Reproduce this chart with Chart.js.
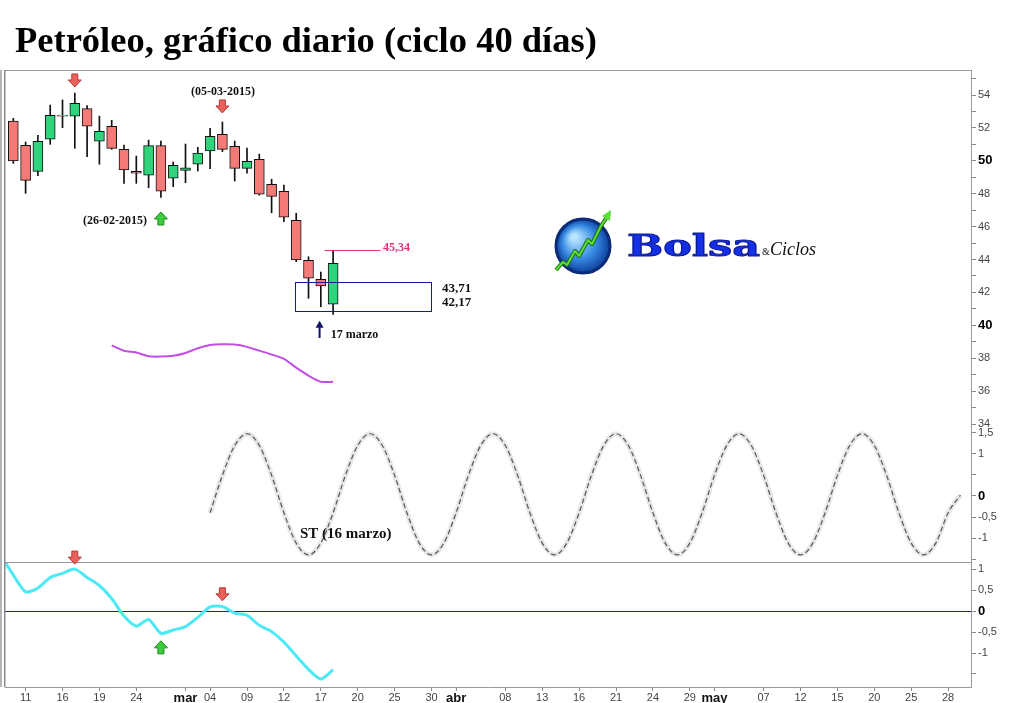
<!DOCTYPE html>
<html>
<head>
    <meta charset="utf-8">
    <title>Petróleo, gráfico diario</title>
    <script src="https://cdn.jsdelivr.net/npm/chart.js"></script>
    <style>
        body {
            margin: 0;
            background: #ffffff;
        }
        .wrap {
            position: relative;
            width: 1024px;
            height: 703px;
        }
        .wrap canvas {
            position: absolute;
            left: 0;
            top: 0;
        }
        .title {
            position: absolute;
            left: 15px;
            top: 21px;
            margin: 0;
            font-family: 'Liberation Serif', 'Times New Roman', serif;
            font-weight: bold;
            font-size: 36.5px;
            line-height: 37px;
            color: #000;
            white-space: nowrap;
        }
    </style>
</head>
<body>
<div class="wrap">
    <canvas id="oilChart" width="1024" height="703"></canvas>
    <div class="title">Petróleo, gráfico diario (ciclo 40 días)</div>
</div>
<script>
// trading days are numbered from 10 feb 2015 (day 0)
const tickDays   = [1, 4, 7, 10, 14, 16, 19, 22, 25, 28, 31, 34, 36, 40, 43, 46, 49, 52, 55, 57, 61, 64, 67, 70, 73, 76];
const tickLabels = ['11', '16', '19', '24', 'mar', '04', '09', '12', '17', '20', '25', '30', 'abr', '08', '13', '16', '21', '24', '29', 'may', '07', '12', '15', '20', '25', '28'];
const monthLabels = ['mar', 'abr', 'may'];

// daily candles, day 0..26
const open  = [52.42, 50.94, 49.36, 51.31, 52.72, 52.72, 53.17, 51.20, 52.10, 50.70, 49.36, 49.12, 50.92, 48.94, 49.42, 49.79, 50.60, 51.61, 50.88, 49.54, 50.09, 48.57, 48.15, 46.38, 43.95, 42.80, 41.28];
const high  = [52.58, 51.14, 51.55, 53.39, 53.70, 54.12, 53.35, 52.72, 52.46, 50.96, 50.29, 51.26, 51.20, 49.93, 51.02, 50.82, 51.98, 52.36, 51.20, 50.78, 50.41, 48.88, 48.53, 46.81, 44.17, 43.24, 44.55];
const low   = [49.85, 48.02, 49.09, 51.00, 52.01, 50.76, 50.25, 49.79, 50.70, 48.63, 48.63, 48.36, 47.78, 48.43, 48.67, 49.38, 49.52, 50.56, 48.77, 49.25, 47.91, 46.84, 46.30, 43.87, 41.64, 41.13, 40.67];
const close = [49.99, 48.81, 51.19, 52.77, 52.78, 53.50, 52.10, 51.79, 50.76, 49.44, 49.25, 50.92, 48.16, 49.73, 49.58, 50.47, 51.49, 50.70, 49.54, 49.97, 47.98, 47.84, 46.57, 43.97, 42.86, 42.39, 43.77];

// purple line on the price panel, day 8..26
const avgStart = 8;
const avgLine = [38.78, 38.45, 38.35, 38.12, 38.10, 38.15, 38.32, 38.61, 38.80, 38.85, 38.83, 38.69, 38.46, 38.23, 37.96, 37.43, 36.94, 36.57, 36.57];

// cycle curve, day 16..77
const cycleStart = 16;
const cycle = [
    -0.40, 0.49, 1.20, 1.48, 1.20, 0.49, -0.40, -1.12, -1.40, -1.12,
    -0.40, 0.49, 1.20, 1.48, 1.20, 0.49, -0.40, -1.12, -1.40, -1.12,
    -0.40, 0.49, 1.20, 1.48, 1.20, 0.49, -0.40, -1.12, -1.40, -1.12,
    -0.40, 0.49, 1.20, 1.48, 1.20, 0.49, -0.40, -1.12, -1.40, -1.12,
    -0.40, 0.49, 1.20, 1.48, 1.20, 0.49, -0.40, -1.12, -1.40, -1.12,
    -0.40, 0.49, 1.20, 1.48, 1.20, 0.49, -0.40, -1.12, -1.40, -1.12,
    -0.40, 0.02
];

// oscillator, day -1..26
const oscStart = -1;
const osc = [1.33, 0.86, 0.46, 0.55, 0.80, 0.90, 1.00, 0.80, 0.61, 0.30, -0.12, -0.36, -0.20, -0.53, -0.45, -0.37, -0.15, 0.10, 0.11, -0.05, -0.10, -0.34, -0.49, -0.74, -1.07, -1.39, -1.62, -1.40];

// axis ticks
const priceTicks = [34, 35, 36, 37, 38, 39, 40, 41, 42, 43, 44, 45, 46, 47, 48, 49, 50, 51, 52, 53, 54, 55];
const cycleTicks = [1.5, 1, 0.5, 0, -0.5, -1, -1.5];
const cycleHidden = [0.5, -1.5];
const oscTicks = [1, 0.5, 0, -0.5, -1, -1.5];
const oscHidden = [-1.5];
const boldTicks = [50, 40, 0];

// marks written on the chart (day, value)
const priceArrows = [{ day: 5, value: 54.49, dir: 1 }, { day: 17, value: 52.91, dir: 1 }, { day: 12, value: 46.89, dir: -1 }];
const oscArrows = [{ day: 5, value: 1.12, dir: 1 }, { day: 17, value: 0.245, dir: 1 }, { day: 12, value: -0.71, dir: -1 }];
const targetHigh = 44.55;      // pink line
const targetBox = { from: 22.93, to: 33.93, top: 42.61, bottom: 40.87 };

const candleDays = open.map((v, i) => i);

function fmt(v) {
    return String(v).replace('.', ',');
}

function blockArrow(ctx, cx, tipY, dir, fill, stroke) {
    // dir 1 = pointing down, -1 = pointing up
    const h = 13, hw = 6.5, sw = 3, hh = 7;
    const baseY = tipY - dir * h;
    const neckY = tipY - dir * hh;
    ctx.beginPath();
    ctx.moveTo(cx - sw, baseY);
    ctx.lineTo(cx + sw, baseY);
    ctx.lineTo(cx + sw, neckY);
    ctx.lineTo(cx + hw, neckY);
    ctx.lineTo(cx, tipY);
    ctx.lineTo(cx - hw, neckY);
    ctx.lineTo(cx - sw, neckY);
    ctx.closePath();
    ctx.fillStyle = fill;
    ctx.fill();
    ctx.strokeStyle = stroke;
    ctx.lineWidth = 1;
    ctx.stroke();
}

const extras = {
    id: 'extras',
    afterDraw(chart) {
        const ctx = chart.ctx;
        const area = chart.chartArea;
        const x = chart.scales.x, yP = chart.scales.yP, yS = chart.scales.yS, yO = chart.scales.yO;
        const px = v => x.getPixelForValue(v);

        ctx.save();
        // frame lines
        ctx.strokeStyle = '#9a9a9a';
        ctx.lineWidth = 1;
        ctx.beginPath();
        ctx.moveTo(area.left, area.top + 0.5);
        ctx.lineTo(area.right, area.top + 0.5);
        ctx.moveTo(area.left, yO.top + 0.5);
        ctx.lineTo(area.right, yO.top + 0.5);
        ctx.stroke();
        ctx.fillStyle = '#b5b5b5';
        ctx.fillRect(0, area.top, 2, area.bottom - area.top);
        ctx.fillStyle = '#8a8a8a';
        ctx.fillRect(area.left - 1, area.top, 1.5, area.bottom - area.top);

        // target line and box
        ctx.strokeStyle = '#e0307a';
        ctx.beginPath();
        ctx.moveTo(px(25.32), Math.round(yP.getPixelForValue(targetHigh)) + 0.5);
        ctx.lineTo(px(29.85), Math.round(yP.getPixelForValue(targetHigh)) + 0.5);
        ctx.stroke();
        ctx.strokeStyle = '#1a1a8c';
        const bx = Math.round(px(targetBox.from)) + 0.5, by = Math.round(yP.getPixelForValue(targetBox.top)) + 0.5;
        ctx.strokeRect(bx, by, Math.round(px(targetBox.to)) - bx + 0.5, Math.round(yP.getPixelForValue(targetBox.bottom)) - by + 0.5);

        // arrows
        priceArrows.forEach(a => {
            const up = a.dir < 0;
            blockArrow(ctx, px(a.day), yP.getPixelForValue(a.value), a.dir,
                up ? '#3ccc3c' : '#e8625c', up ? '#1f8a1f' : '#b83a34');
        });
        oscArrows.forEach(a => {
            const up = a.dir < 0;
            blockArrow(ctx, px(a.day), yO.getPixelForValue(a.value), a.dir,
                up ? '#3ccc3c' : '#e8625c', up ? '#1f8a1f' : '#b83a34');
        });

        // thin navy arrow (17 marzo)
        const ax = px(24.9), aTop = yP.getPixelForValue(40.28), aBot = yP.getPixelForValue(39.23);
        ctx.fillStyle = '#14146e';
        ctx.fillRect(ax - 1, aTop + 5, 2, aBot - aTop - 5);
        ctx.beginPath();
        ctx.moveTo(ax, aTop);
        ctx.lineTo(ax + 4, aTop + 7);
        ctx.lineTo(ax - 4, aTop + 7);
        ctx.closePath();
        ctx.fill();

        // notes
        ctx.textBaseline = 'middle';
        ctx.fillStyle = '#111';
        ctx.textAlign = 'center';
        ctx.font = 'bold 12px "Liberation Serif"';
        ctx.fillText('(05-03-2015)', px(17.05), yP.getPixelForValue(54.18));
        ctx.fillText('(26-02-2015)', px(8.27), yP.getPixelForValue(46.34));
        ctx.textAlign = 'left';
        ctx.font = 'bold 13px "Liberation Serif"';
        ctx.fillText('43,71', px(34.85), yP.getPixelForValue(42.2));
        ctx.fillText('42,17', px(34.85), yP.getPixelForValue(41.36));
        ctx.font = 'bold 12px "Liberation Serif"';
        ctx.fillText('17 marzo', px(25.8), yP.getPixelForValue(39.4));
        ctx.font = 'bold 15px "Liberation Serif"';
        ctx.fillText('ST (16 marzo)', px(23.3), yS.getPixelForValue(-0.9));
        ctx.font = 'bold 12px "Liberation Serif"';
        ctx.fillStyle = '#e0307a';
        ctx.fillText('45,34', px(30.05), yP.getPixelForValue(44.7));

        // logo
        const gx = 583, gy = 246, r = 27;
        const grad = ctx.createRadialGradient(gx - 9, gy - 9, 3, gx, gy, r);
        grad.addColorStop(0, '#b8e4ff');
        grad.addColorStop(0.55, '#3a8ee6');
        grad.addColorStop(1, '#0d3f9e');
        ctx.beginPath();
        ctx.arc(gx, gy, r, 0, Math.PI * 2);
        ctx.fillStyle = grad;
        ctx.fill();
        ctx.lineWidth = 3;
        ctx.strokeStyle = '#0b2a78';
        ctx.stroke();
        const zig = [[556, 270], [563, 262], [567, 265], [575, 251], [579, 256], [588, 240], [592, 244], [601, 226], [609, 214]];
        ctx.lineJoin = 'round';
        ctx.beginPath();
        zig.forEach((p, i) => i ? ctx.lineTo(p[0], p[1]) : ctx.moveTo(p[0], p[1]));
        ctx.strokeStyle = '#1d6a12';
        ctx.lineWidth = 4;
        ctx.stroke();
        ctx.strokeStyle = '#5be03a';
        ctx.lineWidth = 2;
        ctx.stroke();
        ctx.beginPath();
        ctx.moveTo(611, 210);
        ctx.lineTo(610, 221);
        ctx.lineTo(602, 216);
        ctx.closePath();
        ctx.fillStyle = '#5be03a';
        ctx.fill();

        ctx.font = 'bold 30px "DejaVu Serif"';
        const w = ctx.measureText('Bolsa').width;
        ctx.save();
        ctx.translate(627, 256);
        ctx.scale(133 / w, 1);
        ctx.textBaseline = 'alphabetic';
        ctx.lineWidth = 1;
        ctx.strokeStyle = '#0a1890';
        ctx.fillStyle = '#1430e6';
        ctx.fillText('Bolsa', 0, 0);
        ctx.strokeText('Bolsa', 0, 0);
        ctx.restore();
        ctx.textBaseline = 'alphabetic';
        ctx.fillStyle = '#111';
        ctx.font = '10px "Liberation Serif"';
        ctx.fillText('&', 762, 255);
        ctx.font = 'italic 18px "Liberation Serif"';
        ctx.fillText('Ciclos', 770, 255);
        ctx.restore();
    }
};

function tickFont(c) {
    const v = c.tick ? c.tick.value : null;
    return boldTicks.includes(v)
        ? { family: 'Liberation Sans', size: 13, weight: 'bold' }
        : { family: 'Liberation Sans', size: 11 };
}
function tickColor(c) {
    return c.tick && boldTicks.includes(c.tick.value) ? '#000' : '#444';
}

const ctx = document.getElementById('oilChart').getContext('2d');
const chart = new Chart(ctx, {
    type: 'line',
    data: {
        datasets: [
            {
                type: 'bar',
                data: candleDays.map(i => ({ x: i, y: [low[i], high[i]] })),
                yAxisID: 'yP',
                backgroundColor: '#111',
                barThickness: 1,
                grouped: false,
                order: 5
            },
            {
                type: 'bar',
                data: candleDays.map(i => ({ x: i, y: [open[i], close[i]] })),
                yAxisID: 'yP',
                backgroundColor: candleDays.map(i => close[i] >= open[i] ? '#2fd47c' : '#f47a78'),
                borderColor: '#111',
                borderWidth: 1,
                borderSkipped: false,
                barThickness: 10,
                grouped: false,
                order: 4
            },
            {
                data: avgLine.map((v, i) => ({ x: avgStart + i, y: v })),
                yAxisID: 'yP',
                borderColor: '#c24ee6',
                borderWidth: 2,
                pointRadius: 0,
                tension: 0.3,
                order: 3
            },
            {
                data: cycle.map((v, i) => ({ x: cycleStart + i, y: v })),
                yAxisID: 'yS',
                borderColor: '#e6e8e8',
                borderWidth: 5,
                pointRadius: 0,
                cubicInterpolationMode: 'monotone',
                order: 3
            },
            {
                data: cycle.map((v, i) => ({ x: cycleStart + i, y: v })),
                yAxisID: 'yS',
                borderColor: '#555',
                borderWidth: 1.2,
                borderDash: [5, 3],
                pointRadius: 0,
                cubicInterpolationMode: 'monotone',
                order: 2
            },
            {
                data: osc.map((v, i) => ({ x: oscStart + i, y: v })),
                yAxisID: 'yO',
                borderColor: '#4de9f4',
                borderWidth: 3,
                pointRadius: 0,
                tension: 0.25,
                order: 1
            }
        ]
    },
    options: {
        responsive: false,
        animation: false,
        events: [],
        layout: { padding: { top: 70, left: 5, right: 0, bottom: 0 } },
        plugins: {
            legend: { display: false },
            tooltip: { enabled: false }
        },
        scales: {
            x: {
                type: 'linear',
                offset: false,
                min: -0.675,
                max: 77.86,
                afterBuildTicks: s => { s.ticks = tickDays.map(v => ({ value: v })); },
                afterFit: s => { s.height = 16; },
                grid: { drawOnChartArea: false, offset: false, tickLength: 4, color: '#888' },
                border: { color: '#999' },
                ticks: {
                    autoSkip: false,
                    maxRotation: 0,
                    padding: 0,
                    callback: v => tickLabels[tickDays.indexOf(v)],
                    font: c => c.tick && monthLabels.includes(tickLabels[tickDays.indexOf(c.tick.value)])
                        ? { family: 'Liberation Sans', size: 13, weight: 'bold' }
                        : { family: 'Liberation Sans', size: 11 },
                    color: c => c.tick && monthLabels.includes(tickLabels[tickDays.indexOf(c.tick.value)]) ? '#111' : '#444'
                }
            },
            yP: {
                type: 'linear',
                position: 'right',
                stack: 'panels',
                stackWeight: 357,
                weight: 0,
                min: 33.82,
                max: 55.52,
                afterBuildTicks: s => { s.ticks = priceTicks.map(v => ({ value: v })); },
                afterFit: s => { s.width = 53; },
                grid: { drawOnChartArea: false, tickLength: 5, color: '#888' },
                border: { color: '#999' },
                ticks: {
                    autoSkip: false,
                    padding: 2,
                    callback: v => v % 2 === 0 ? String(v) : '',
                    font: tickFont,
                    color: tickColor
                }
            },
            yS: {
                type: 'linear',
                position: 'right',
                stack: 'panels',
                stackWeight: 135,
                weight: 1,
                min: -1.57,
                max: 1.64,
                afterBuildTicks: s => { s.ticks = cycleTicks.map(v => ({ value: v })); },
                afterFit: s => { s.width = 53; },
                grid: { drawOnChartArea: false, tickLength: 5, color: '#888' },
                border: { color: '#999' },
                ticks: {
                    autoSkip: false,
                    padding: 2,
                    callback: v => cycleHidden.includes(v) ? '' : fmt(v),
                    font: tickFont,
                    color: tickColor
                }
            },
            yO: {
                type: 'linear',
                position: 'right',
                stack: 'panels',
                stackWeight: 125,
                weight: 2,
                min: -1.81,
                max: 1.17,
                afterBuildTicks: s => { s.ticks = oscTicks.map(v => ({ value: v })); },
                afterFit: s => { s.width = 53; },
                grid: {
                    drawOnChartArea: true,
                    tickLength: 5,
                    color: c => c.tick && c.tick.value === 0 ? '#22228a' : 'rgba(0,0,0,0)',
                    tickColor: '#888'
                },
                border: { color: '#999' },
                ticks: {
                    autoSkip: false,
                    padding: 2,
                    callback: v => oscHidden.includes(v) ? '' : fmt(v),
                    font: tickFont,
                    color: tickColor
                }
            }
        }
    },
    plugins: [extras]
});
</script>
</body>
</html>
